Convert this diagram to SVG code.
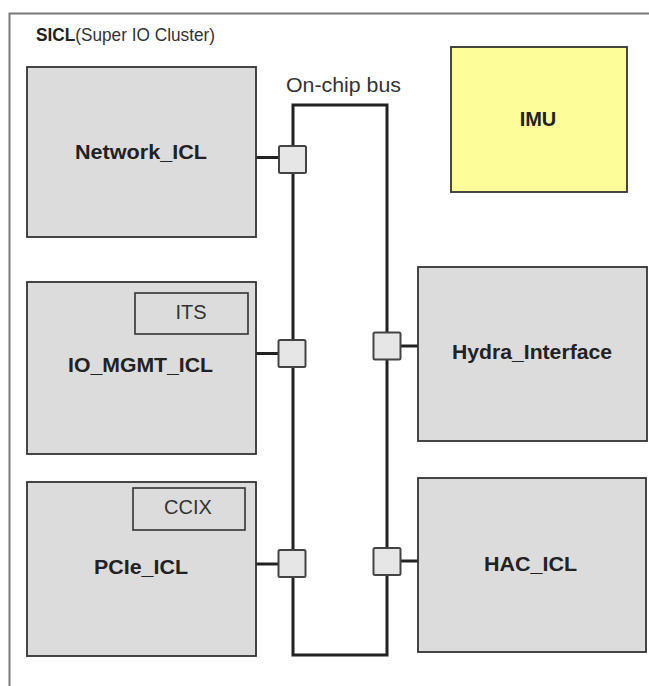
<svg xmlns="http://www.w3.org/2000/svg" width="649" height="686" viewBox="0 0 649 686">
  <style>
    .frame { fill: none; stroke: #7a7a7a; stroke-width: 2; }
    .block { fill: #dcdcdc; stroke: #333; stroke-width: 1.8; }
    .imu { fill: #fdfd99; stroke: #333; stroke-width: 1.8; }
    .sub { fill: #dcdcdc; stroke: #333; stroke-width: 1.6; }
    .port { fill: #e6e6e6; stroke: #444; stroke-width: 2; }
    .bus { fill: none; stroke: #222; stroke-width: 3; }
    .wire { fill: none; stroke: #222; stroke-width: 3; }
    .lbl { font-family: "Liberation Sans", Arial, sans-serif; font-weight: bold; font-size: 20px; fill: #222; text-anchor: middle; }
    .reg { font-family: "Liberation Sans", Arial, sans-serif; font-size: 20px; fill: #333; text-anchor: middle; }
    .title { font-family: "Liberation Sans", Arial, sans-serif; font-size: 17.5px; fill: #333; }
  </style>

  <rect width="649" height="686" fill="#fff"/>

  <!-- cluster frame (continues past the right and bottom edges) -->
  <g id="sicl">
    <path class="frame" d="M9.5,700 V13.5 H660"/>
    <text class="title" x="36" y="41" textLength="179" lengthAdjust="spacingAndGlyphs"><tspan font-weight="bold" fill="#222">SICL</tspan>(Super IO Cluster)</text>
  </g>

  <!-- on-chip bus loop and stubs -->
  <g id="connectors">
    <rect class="bus" x="293" y="105" width="94" height="550"/>
    <line class="wire" x1="256" y1="157.5" x2="280" y2="157.5"/>
    <line class="wire" x1="256" y1="353.5" x2="280" y2="353.5"/>
    <line class="wire" x1="256" y1="564" x2="280" y2="564"/>
    <line class="wire" x1="400" y1="346" x2="418" y2="346"/>
    <line class="wire" x1="400" y1="561" x2="418" y2="561"/>
    <text class="reg" x="343.5" y="92" textLength="115" lengthAdjust="spacingAndGlyphs">On-chip bus</text>
  </g>

  <!-- bus ports -->
  <g id="ports">
    <rect class="port" x="279" y="146" width="27" height="27" rx="1.5"/>
    <rect class="port" x="278.5" y="340" width="27" height="27" rx="1.5"/>
    <rect class="port" x="278.5" y="550" width="27" height="27" rx="1.5"/>
    <rect class="port" x="373.5" y="332.5" width="27" height="27" rx="1.5"/>
    <rect class="port" x="373.5" y="548" width="27" height="27" rx="1.5"/>
  </g>

  <g id="network_icl">
    <rect class="block" x="27" y="67" width="229" height="170"/>
    <text class="lbl" x="141" y="159" textLength="132" lengthAdjust="spacingAndGlyphs">Network_ICL</text>
  </g>

  <g id="io_mgmt_icl">
    <rect class="block" x="27" y="282" width="229" height="172"/>
    <g id="its">
      <rect class="sub" x="135" y="293" width="113" height="41"/>
      <text class="reg" x="191" y="319">ITS</text>
    </g>
    <text class="lbl" x="140.5" y="372" textLength="145" lengthAdjust="spacingAndGlyphs">IO_MGMT_ICL</text>
  </g>

  <g id="pcie_icl">
    <rect class="block" x="27" y="482" width="229" height="174"/>
    <g id="ccix">
      <rect class="sub" x="133" y="488" width="112" height="42"/>
      <text class="reg" x="188" y="514">CCIX</text>
    </g>
    <text class="lbl" x="141" y="574" textLength="94" lengthAdjust="spacingAndGlyphs">PCIe_ICL</text>
  </g>

  <g id="imu">
    <rect class="imu" x="451" y="47" width="176" height="145"/>
    <text class="lbl" x="538" y="126">IMU</text>
  </g>

  <g id="hydra_interface">
    <rect class="block" x="418" y="267" width="229" height="174"/>
    <text class="lbl" x="532" y="359" textLength="160" lengthAdjust="spacingAndGlyphs">Hydra_Interface</text>
  </g>

  <g id="hac_icl">
    <rect class="block" x="418" y="478" width="228" height="174"/>
    <text class="lbl" x="530.5" y="571" textLength="93" lengthAdjust="spacingAndGlyphs">HAC_ICL</text>
  </g>
</svg>
